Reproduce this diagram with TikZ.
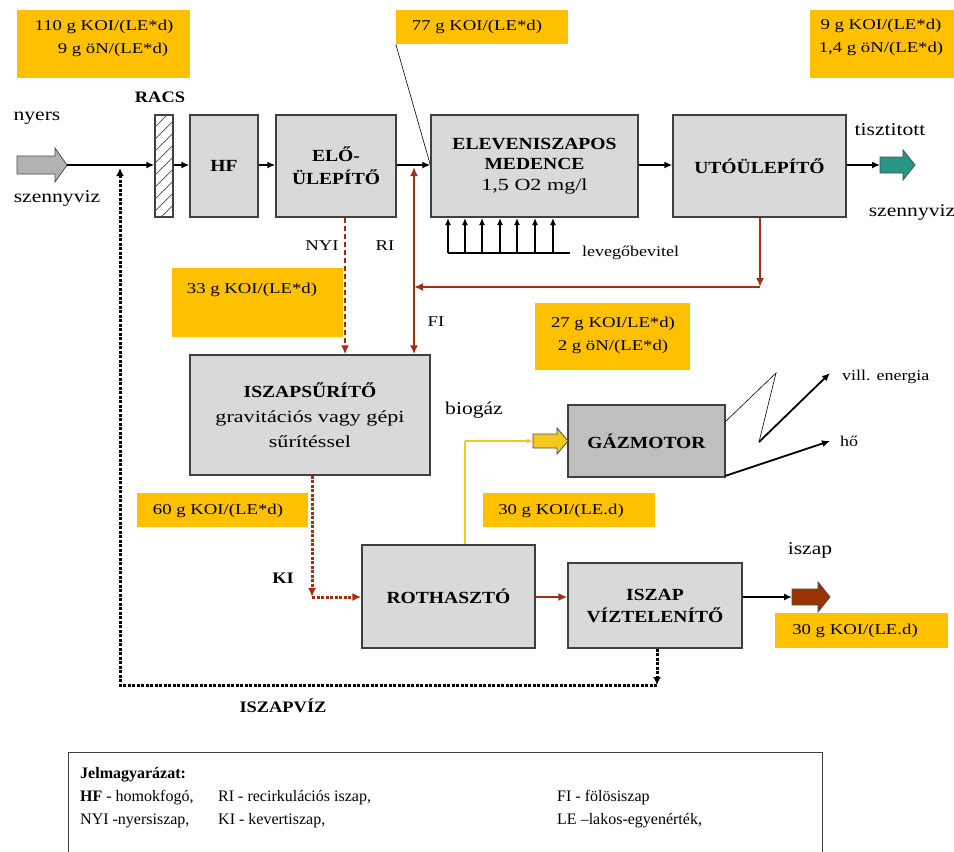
\documentclass[tikz,border=0pt]{standalone}
\usepackage{fontspec}
\setmainfont{Liberation Serif}
\newfontfamily\boxbold[FakeStretch=1.15]{Liberation Serif}
\newfontfamily\boxreg[FakeStretch=1.3]{Liberation Serif}
\newfontfamily\notefont[FakeStretch=1.25]{Liberation Serif}
\newfontfamily\lblfont[FakeStretch=1.2]{Liberation Serif}
\usetikzlibrary{arrows.meta}
\definecolor{gold}{RGB}{255,192,0}
\definecolor{procgray}{RGB}{217,217,217}
\definecolor{gazgray}{RGB}{191,191,191}
\definecolor{rust}{RGB}{165,45,20}
\definecolor{teal2}{RGB}{40,150,135}
\definecolor{brownarr}{RGB}{153,51,0}
\definecolor{ylw}{RGB}{245,200,30}
\newcommand{\regline}{\boxreg\mdseries}
\tikzset{
  proc/.style={draw=black!75, line width=1.3pt, fill=procgray, align=center, inner sep=0pt,
    font=\boxbold\fontsize{17}{22}\selectfont\bfseries},
  note/.style={fill=gold, inner sep=0pt, align=center, font=\notefont\fontsize{15}{23}\selectfont},
  notetxt/.style={inner sep=0pt, align=center, font=\notefont\fontsize{15}{23}\selectfont},
  lbl/.style={inner sep=0pt, font=\lblfont\fontsize{18}{20}\selectfont},
  blbl/.style={inner sep=0pt, font=\boxbold\fontsize{16}{18}\selectfont\bfseries},
  slbl/.style={inner sep=0pt, font=\lblfont\fontsize{15}{17}\selectfont},
  leg/.style={inner sep=0pt, anchor=west, font=\fontsize{16}{18}\selectfont},
  flow/.style={line width=1.8pt, -{Latex[length=8pt,width=7pt]}},
  sludge/.style={line width=2.2pt, draw=rust, -{Latex[length=9pt,width=8pt]}, color=rust},
  dotline/.style={line width=3pt, dash pattern=on 3pt off 1.5pt},
  fat/.style={draw=black!70, line width=0.8pt}
}
\begin{document}
\begin{tikzpicture}[x=1pt,y=-1pt]
\useasboundingbox (0,0) rectangle (954,852);

% ---------- yellow notes ----------
\node[note, minimum width=173pt, minimum height=68pt] (n1) at (103.5,44) {};
\node[notetxt] (n1t) at (104,38) {110 g KOI/(LE*d)\\ \hspace*{18pt}9 g öN/(LE*d)};
\node[note, minimum width=172pt, minimum height=34pt] (n2) at (482,27) {};
\node[notetxt] (n2t) at (477,27) {77 g KOI/(LE*d)};
\node[note, minimum width=144pt, minimum height=68pt] (n3) at (882,44) {};
\node[notetxt] (n3t) at (881,37) {9 g KOI/(LE*d)\\1,4 g öN/(LE*d)};
\node[note, minimum width=171pt, minimum height=69pt] (n33) at (257.5,302.5) {};
\node[notetxt] (n33t) at (252,290) {33 g KOI/(LE*d)};
\node[note, minimum width=155pt, minimum height=67pt] (n27) at (612.5,336.5) {};
\node[notetxt] (n27t) at (613,335) {27 g KOI/LE*d)\\2 g öN/(LE*d)};
\node[note, minimum width=171pt, minimum height=34pt] (n60) at (222.5,510) {};
\node[notetxt] (n60t) at (218,511) {60 g KOI/(LE*d)};
\node[note, minimum width=172pt, minimum height=34pt] (n30a) at (569,510) {};
\node[notetxt] (n30at) at (561,511) {30 g KOI/(LE.d)};
\node[note, minimum width=173pt, minimum height=35pt] (n30b) at (861.5,630.5) {};
\node[notetxt] (n30bt) at (855,631) {30 g KOI/(LE.d)};

% ---------- process boxes ----------
\node[draw=black!75, line width=1.3pt, fill=white, minimum width=18pt, minimum height=102pt, inner sep=0pt] (racs) at (164,166) {};
\begin{scope}
  \clip (155,115) rectangle (173,217);
  \foreach \k in {0,...,10} \draw[line width=0.7pt, black!70] (155,235-\k*12) -- ++(18,-18);
\end{scope}
\draw[draw=black!75, line width=1.3pt] (racs.south west) rectangle (racs.north east);
\node[proc, minimum width=68pt, minimum height=102pt] (hf) at (224,166) {HF};
\node[proc, minimum width=120pt, minimum height=102pt, font=\boxbold\fontsize{17}{23}\selectfont\bfseries] (elo) at (336,166) {ELŐ-\\ÜLEPÍTŐ};
\node[proc, minimum width=207pt, minimum height=102pt, font=\boxbold\fontsize{17}{20.5}\selectfont\bfseries] (elev) at (534.5,166)
  {ELEVENISZAPOS\\MEDENCE\\\regline 1,5 O2 mg/l};
\node[proc, minimum width=173pt, minimum height=102pt] (uto) at (759.5,166) {UTÓÜLEPÍTŐ};
\node[proc, minimum width=240pt, minimum height=120pt, font=\boxbold\fontsize{17}{25}\selectfont\bfseries] (iszs) at (310,415)
  {ISZAPSŰRÍTŐ\\\regline gravitációs vagy gépi\\\regline sűrítéssel};
\node[proc, fill=gazgray, minimum width=157pt, minimum height=72pt] (gaz) at (646.5,441) {GÁZMOTOR};
\node[proc, minimum width=173pt, minimum height=103pt] (roth) at (448.5,596.5) {ROTHASZTÓ};
\node[proc, minimum width=174pt, minimum height=85pt] (viz) at (655,605.5) {ISZAP\\VÍZTELENÍTŐ};

% ---------- fat arrows ----------
\filldraw[fat, fill=gray!60] (17,156) -- (55,156) -- (55,148) -- (67,165) -- (55,182) -- (55,174) -- (17,174) -- cycle;
\coordinate (inTip) at (67,165);
\filldraw[fat, fill=teal2] (880,157) -- (903,157) -- (903,150) -- (915,165) -- (903,180) -- (903,173) -- (880,173) -- cycle;
\coordinate (outTail) at (880,165);
\filldraw[fat, fill=ylw] (533,434) -- (557,434) -- (557,428) -- (568,441) -- (557,454) -- (557,448) -- (533,448) -- cycle;
\coordinate (gasTail) at (533,441);
\filldraw[fat, fill=brownarr] (792,589) -- (818,589) -- (818,582) -- (830,597) -- (818,612) -- (818,605) -- (792,605) -- cycle;
\coordinate (sludgeTail) at (792,597);

% ---------- labels ----------
\node[blbl] (lracs) at (160,97) {RACS};
\node[lbl] (lnyers) at (37,118) {nyers};
\node[lbl] (lszv1) at (57,198) {szennyviz};
\node[lbl] (ltiszt) at (890,130) {tisztitott};
\node[lbl] (lszv2) at (912,212) {szennyviz};
\node[notetxt] (lnyi) at (322,246) {NYI};
\node[notetxt] (lri) at (385,246) {RI};
\node[notetxt] (lfi) at (436,322) {FI};
\node[slbl, anchor=west] (llev) at (582,253) {levegőbevitel};
\node[lbl] (lbio) at (474,410) {biogáz};
\node[slbl, anchor=west] (lvill) at (842,377) {vill. energia};
\node[slbl, anchor=west] (lho) at (840,441) {hő};
\node[blbl] (lki) at (283,578) {KI};
\node[lbl] (liszap) at (810,550) {iszap};
\node[blbl] (liszv) at (283,706) {ISZAPVÍZ};

% ---------- main flow ----------
\draw[flow] (inTip) -- (racs.west |- 0,165);
\draw[flow] (racs.east |- 0,165) -- (hf.west |- 0,165);
\draw[flow] (hf.east |- 0,165) -- (elo.west |- 0,165);
\draw[flow] (elo.east |- 0,165) -- (elev.west |- 0,165);
\draw[flow] (elev.east |- 0,165) -- (uto.west |- 0,165);
\draw[flow] (uto.east |- 0,165) -- (outTail);
\draw[line width=0.6pt] (n2.south west) -- (elev.west |- 0,165);

% air
\coordinate (airL) at (448,253);
\coordinate (airR) at (570,253);
\draw[line width=1.5pt] (airL) -- (airR);
\foreach \ax in {448,465,482,500,517,535,553}
  \draw[line width=1.8pt, -{Latex[length=7pt,width=6pt]}] (\ax,253) -- (\ax,218);

% recirculation
\coordinate (c1) at (760,287);
\coordinate (jR) at (414,287);
\draw[sludge] (uto.south -| c1) -- (c1);
\draw[sludge] (c1) -- (jR);
\draw[sludge] (jR) -- (414,167);
\draw[sludge] (jR) -- (iszs.north -| jR);
\draw[sludge, dash pattern=on 5pt off 3pt] (elo.south -| 345,0) -- (iszs.north -| 345,0);

% thickened sludge
\coordinate (c2) at (312,597);
\draw[sludge, dotline] (iszs.south -| c2) -- (c2);
\draw[sludge, dotline] (c2) -- (roth.west |- c2);
\draw[sludge] (roth.east |- 0,597) -- (viz.west |- 0,597);
\draw[flow] (viz.east |- 0,597) -- (sludgeTail);

% biogas
\coordinate (c3) at (465,441);
\draw[ylw, line width=1.4pt] (roth.north -| c3) -- (c3);
\draw[ylw, line width=1.4pt, -{Latex[length=6pt,width=5pt]}] (c3) -- (gasTail);

% gas motor outputs
\coordinate (z1) at (725,422);
\coordinate (z2) at (776,373);
\coordinate (z3) at (759,442);
\coordinate (z4) at (830,373);
\coordinate (h0) at (725,476);
\coordinate (h1) at (830,441);
\draw[line width=0.6pt] (z1) -- (z2) -- (z3);
\draw[flow] (z3) -- (z4);
\draw[flow] (h0) -- (h1);

% sludge water return
\coordinate (c4) at (657,685);
\draw[dotline, -{Latex[length=8pt,width=8pt]}] (viz.south -| c4) -- (c4);
\draw[dotline, -{Latex[length=8pt,width=8pt]}] (c4) -| (120,168);

% ---------- legend ----------
\draw[line width=1pt, black!75] (68,852) -- (68,752) -- (822,752) -- (822,852);
\node[leg, font=\fontsize{16}{18}\selectfont\bfseries] (lg0) at (80,775) {Jelmagyarázat:};
\node[leg] (lg1) at (80,798) {\textbf{HF} - homokfogó,};
\node[leg] (lg2) at (218,798) {RI - recirkulációs iszap,};
\node[leg] (lg3) at (557,798) {FI - fölösiszap};
\node[leg] (lg4) at (80,821) {NYI -nyersiszap,};
\node[leg] (lg5) at (218,821) {KI - kevertiszap,};
\node[leg] (lg6) at (557,821) {LE –lakos-egyenérték,};
\end{tikzpicture}
\end{document}
